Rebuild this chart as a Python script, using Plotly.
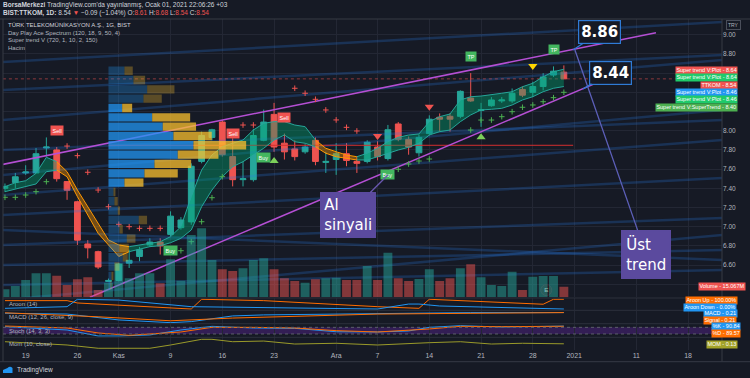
import plotly.graph_objects as go

# ---------------- data ----------------
bar_index = list(range(55))
opens  = [7.40,7.46,7.56,7.56,7.82,7.80,7.47,7.26,6.82,6.74,6.43,6.44,6.62,6.69,6.81,6.84,6.92,6.99,7.05,7.68,
          7.93,8.09,7.73,7.49,7.49,7.90,8.17,7.87,7.81,7.78,7.90,7.67,7.70,7.76,7.68,7.68,7.83,7.71,8.07,7.91,
          7.77,7.97,8.14,8.15,8.15,8.34,8.21,8.26,8.31,8.31,8.43,8.40,8.46,8.58,8.61]
highs  = [7.45,7.56,7.64,7.82,7.93,7.83,7.47,7.27,6.86,6.75,6.46,6.62,6.76,6.79,6.88,6.88,7.16,7.10,7.66,7.99,
          8.02,8.11,7.92,7.68,8.02,8.22,8.29,7.97,7.90,7.86,7.93,7.78,7.87,7.87,7.73,7.90,7.89,8.06,8.09,7.94,
          7.96,8.16,8.18,8.18,8.42,8.60,8.29,8.35,8.35,8.44,8.46,8.51,8.60,8.67,8.68]
lows   = [7.36,7.40,7.54,7.56,7.73,7.47,7.28,6.81,6.67,6.56,6.43,6.43,6.57,6.64,6.79,6.71,6.90,6.97,7.02,7.66,
          7.90,7.73,7.42,7.42,7.47,7.89,7.78,7.70,7.69,7.76,7.64,7.56,7.54,7.63,7.56,7.66,7.69,7.69,7.89,7.75,
          7.73,7.95,7.99,7.99,8.13,8.30,8.04,8.25,8.29,8.29,8.35,8.35,8.42,8.56,8.54]
closes = [7.42,7.52,7.57,7.76,7.83,7.50,7.38,6.86,6.78,6.58,6.44,6.61,6.65,6.76,6.84,6.80,7.11,7.07,7.63,7.95,
          8.01,7.75,7.49,7.50,7.95,8.09,7.83,7.78,7.73,7.83,7.68,7.68,7.76,7.69,7.66,7.88,7.73,8.01,7.91,7.83,
          7.93,8.12,8.12,8.12,8.41,8.31,8.22,8.32,8.32,8.39,8.37,8.46,8.56,8.62,8.54]
volume_m = [11.4,16.0,24.6,34.1,34.1,30.7,17.5,25.6,28.4,10.4,20.7,48.3,27.0,34.1,34.1,19.9,54.0,23.6,88.5,98.0,
            53.0,39.8,37.3,41.2,53.0,55.4,39.8,27.0,23.1,20.7,25.6,27.0,27.8,24.6,24.6,44.4,24.6,63.3,27.0,23.1,
            26.0,39.8,23.1,27.0,41.2,46.9,28.4,17.5,16.0,36.4,10.4,29.3,30.2,30.2,15.067]

tick_index = [2, 7, 11, 16, 21, 26, 32, 36, 41, 46, 51, 55, 61, 66]
tick_text = ['19', '26', 'Kas', '9', '16', '23', 'Ara', '7', '14', '21', '28', '2021', '11', '18']
price_ticks = [6.40, 6.60, 6.80, 7.00, 7.20, 7.40, 7.60, 7.80, 8.00, 8.20, 8.40, 8.60, 8.80, 9.00]
price_ticks_hidden = [6.40, 8.20, 8.40, 8.60]   # covered by the value labels on the price scale

# Super trend V band (upper / lower edge) and direction (1 = up / green, -1 = down / orange)
st_top = [7.417,7.458,7.479,7.556,7.723,7.677,7.573,7.382,7.208,7.035,6.862,6.810,6.792,6.810,6.833,6.844,6.896,7.000,7.313,7.590,
          7.747,7.833,7.869,7.903,8.007,8.077,8.094,8.094,8.059,8.042,7.903,7.817,7.781,7.747,7.729,7.765,7.817,7.885,7.931,7.955,
          7.966,8.094,8.146,8.174,8.320,8.354,8.361,8.372,8.390,8.406,8.458,8.494,8.562,8.615,8.640]
st_bot = [7.365,7.390,7.417,7.445,7.573,7.590,7.520,7.313,7.122,6.931,6.810,6.690,6.740,6.765,6.792,6.802,6.833,6.879,6.966,7.208,
          7.382,7.520,7.625,7.677,7.747,7.817,7.903,7.955,7.885,7.869,7.833,7.765,7.729,7.712,7.695,7.695,7.729,7.765,7.799,7.827,
          7.869,7.955,7.990,8.007,8.094,8.164,8.216,8.223,8.233,8.268,8.320,8.354,8.406,8.442,8.460]
st_dir = [1,1,1,1,1,1,-1,-1,-1,-1,-1,-1,-1,1,1,1,1,1,1,1,
          1,1,1,1,1,1,1,1,1,1,1,-1,-1,-1,-1,1,1,1,1,1,
          1,1,1,1,1,1,1,1,1,1,1,1,1,1,1]
st_value = 8.40

# Super trend stop dots
stop_red_idx = [6,7,8,9,10,11,12,13,14,15,23,24,28,29,30,31,32,33,34]
stop_red_price = [7.84,7.74,7.567,7.382,7.208,7.025,7.0,6.983,6.983,6.983,8.059,8.059,8.442,8.39,8.327,8.216,8.112,8.035,7.997]
stop_green_idx = [0,1,2,3,4,17,18,19,20,21,38,39,40,41,45,46,47,48,49,50,51,52,53,54]
stop_green_price = [7.306,7.306,7.33,7.365,7.469,6.75,6.844,7.052,7.302,7.521,7.598,7.653,7.684,7.705,
                    8.007,8.111,8.111,8.146,8.198,8.244,8.268,8.302,8.344,8.40]

# triangles
tri_up_idx = [26, 46]
tri_up_price = [7.684, 7.931]
tri_dn_idx = [36, 41]
tri_dn_price = [7.945, 8.25]
tri_yellow_idx = [51]
tri_yellow_price = [8.674]

# signal labels
signal_idx = [5, 22, 27, 16, 25, 37, 45, 53]
signal_price = [7.997, 7.966, 8.14, 6.757, 7.716, 7.542, 8.768, 8.85]
signal_text = ['Sell', 'Sell', 'Sell', 'Buy', 'Buy', 'Buy', 'TP', 'TP']

# volume profile (rows from the top), buy / sell volume, value-area flag
profile_price = [8.625,8.528,8.431,8.334,8.236,8.139,8.042,7.945,7.848,7.751,7.654,7.556,
                 7.459,7.362,7.265,7.168,7.070,6.973,6.876,6.779,6.682,6.585,6.487,6.390]
profile_buy = [16,25,38.7,35,13.7,43.7,54.3,65,85,69.3,46,36,16,5,6,9.3,30.3,11,18.3,11,14.3,6,3,2]
profile_sell = [8.3,11.7,27.3,18.3,10,38,33.3,38.3,52.7,40.7,36.7,33.3,19,2,3.3,2.3,8.3,3.3,8.7,9.3,5,5,2,1]
profile_in_va = [0,0,0,0,1,1,1,1,1,1,1,1,1,0,0,0,0,0,0,0,0,0,0,0]
profile_start_idx = 10

# trend lines
upper_trend_idx = [-0.48, 62.9]
upper_trend_price = [7.643, 9.021]
lower_trend_idx = [8.21, 57.97]
lower_trend_price = [6.265, 8.535]

# Day Play Ace Spectrum lines (left / right ends)
spectrum_idx = [-0.2, 69.3]
spectrum_left = [8.716, 8.424, 8.111, 7.799, 7.33, 7.122, 6.809, 6.601, 6.393, 7.539, 6.966, 6.237]
spectrum_right = [9.132, 8.789, 8.736, 8.111, 7.903, 7.507, 7.09, 6.757, 6.549, 8.216, 6.653, 6.914]

# indicators
aroon_up_idx = [0,6,7,11,18,19,25,36,40,41,50,52,53,54]
aroon_up = [86,86,62,41,0,100,86,24,7,100,59,49,100,100]
aroon_dn_idx = [0,6,7,11,18,22,36,39,40,42,54]
aroon_dn = [7,24,100,92,24,18,0,51,51,31,0]
macd_idx = [0,6,11,16,18,22,25,36,45,54]
macd = [0.18,0.14,-0.14,-0.27,-0.22,0.05,0.10,0.18,0.21,0.21]
signal_line_idx = [0,9,16,22,36,45,54]
signal_line = [0.20,0.01,-0.18,-0.05,0.14,0.18,0.21]
stoch_k_idx = [0,6,9,11,14,17,20,24,28,32,36,39,41,44,48,54]
stoch_k = [86,56,2,2,11,56,89,74,71,40,38,47,80,95,83,90.84]
stoch_d_idx = [0,6,9,12,17,20,24,28,32,36,41,44,48,54]
stoch_d = [92,74,29,8,38,80,80,74,50,38,65,89,86,89.57]
stoch_band = [20, 80]
mom_idx = [0,6,9,14,16,19,20,22,25,28,32,36,41,44,47,50,54]
mom = [0.41,-0.03,-0.47,-0.47,-0.03,0.73,0.73,0.41,0.5,0.1,0.2,-0.03,0.28,0.41,0.1,0.2,0.13]

earnings_idx = [52.3]
earnings_price = [6.34]

# ---------------- style ----------------
BG = '#161a25'
GRID = '#232734'
BORDER = '#363a45'
TXT = '#b2b5be'
UP = '#26a69a'
DN = '#ef5350'
FONT = 'Liberation Sans, Arial, sans-serif'

fig = go.Figure()

# spectrum lines
for a, b in zip(spectrum_left, spectrum_right):
    fig.add_trace(go.Scatter(x=spectrum_idx, y=[a, b], mode='lines',
                             line=dict(color='rgba(40,120,225,0.26)', width=2.5), hoverinfo='skip'))

# volume
vol_colors = ['rgba(38,166,154,0.5)' if c >= o else 'rgba(239,83,80,0.5)' for o, c in zip(opens, closes)]
fig.add_trace(go.Bar(x=bar_index, y=volume_m, marker=dict(color=vol_colors, line=dict(width=0)),
                     width=0.86, yaxis='y2'))

# volume profile
row_h = (profile_price[0] - profile_price[1]) * 0.9
buy_col = ['rgba(33,150,243,0.75)' if v else 'rgba(33,150,243,0.30)' for v in profile_in_va]
sell_col = ['rgba(251,192,45,0.75)' if v else 'rgba(251,192,45,0.30)' for v in profile_in_va]
fig.add_trace(go.Bar(y=profile_price, x=profile_buy, base=0, orientation='h', width=row_h,
                     marker=dict(color=buy_col, line=dict(width=0)), xaxis='x2', yaxis='y'))
fig.add_trace(go.Bar(y=profile_price, x=profile_sell, base=profile_buy, orientation='h', width=row_h,
                     marker=dict(color=sell_col, line=dict(width=0)), xaxis='x2', yaxis='y'))
totals = [b + s for b, s in zip(profile_buy, profile_sell)]
poc_price = profile_price[totals.index(max(totals))]
fig.add_trace(go.Scatter(x=[profile_start_idx, 54.9], y=[poc_price, poc_price], mode='lines',
                         line=dict(color='#d32f2f', width=1)))

# last price line
fig.add_trace(go.Scatter(x=[-0.2, 69.3], y=[closes[-1], closes[-1]], mode='lines',
                         line=dict(color='rgba(239,83,80,0.55)', width=1, dash='dot')))

# super trend band segments
runs = []
start = 0
for i in range(1, len(st_dir) + 1):
    if i == len(st_dir) or st_dir[i] != st_dir[start]:
        runs.append((start, i - 1, st_dir[start]))
        start = i
for a, b, d in runs:
    s = a - 1 if a > 0 else 0
    xs = bar_index[s:b + 1]
    edge = UP if d == 1 else '#ff9800'
    fill = 'rgba(0,160,110,0.42)' if d == 1 else 'rgba(255,152,0,0.40)'
    fig.add_trace(go.Scatter(x=xs, y=st_bot[s:b + 1], mode='lines', line=dict(color=edge, width=1)))
    fig.add_trace(go.Scatter(x=xs, y=st_top[s:b + 1], mode='lines', line=dict(color=edge, width=1),
                             fill='tonexty', fillcolor=fill))

# candles
fig.add_trace(go.Candlestick(x=bar_index, open=opens, high=highs, low=lows, close=closes,
                             increasing=dict(line=dict(color=UP, width=1), fillcolor=UP),
                             decreasing=dict(line=dict(color=DN, width=1), fillcolor=DN),
                             whiskerwidth=0, hoverinfo='skip'))

# trend lines
for xi, yi in ((upper_trend_idx, upper_trend_price), (lower_trend_idx, lower_trend_price)):
    fig.add_trace(go.Scatter(x=xi, y=yi, mode='lines', line=dict(color='#b54fd4', width=1.5)))

# stop dots
fig.add_trace(go.Scatter(x=stop_red_idx, y=stop_red_price, mode='markers',
                         marker=dict(symbol='cross-thin', size=4, line=dict(color=DN, width=1))))
fig.add_trace(go.Scatter(x=stop_green_idx, y=stop_green_price, mode='markers',
                         marker=dict(symbol='cross-thin', size=4, line=dict(color='#4caf50', width=1))))
# triangles
fig.add_trace(go.Scatter(x=tri_up_idx, y=tri_up_price, mode='markers',
                         marker=dict(symbol='triangle-up', size=8, color='#7ccf5a')))
fig.add_trace(go.Scatter(x=tri_dn_idx, y=tri_dn_price, mode='markers',
                         marker=dict(symbol='triangle-down', size=8, color=DN)))
fig.add_trace(go.Scatter(x=tri_yellow_idx, y=tri_yellow_price, mode='markers',
                         marker=dict(symbol='triangle-down', size=8, color='#ffd600')))
# earnings marker
fig.add_trace(go.Scatter(x=earnings_idx, y=earnings_price, mode='markers+text', text=['E'],
                         textfont=dict(size=6, color='#e0e0e0', family=FONT),
                         marker=dict(size=11, color='#2a1820', line=dict(color='#4a2030', width=1))))

# indicators
def ind(x, y, color, axis):
    fig.add_trace(go.Scatter(x=x, y=y, mode='lines', line=dict(color=color, width=1), yaxis=axis))

ind(aroon_up_idx, aroon_up, '#ff6d00', 'y3')
ind(aroon_dn_idx, aroon_dn, '#2196f3', 'y3')
ind(macd_idx, macd, '#2196f3', 'y4')
ind(signal_line_idx, signal_line, '#ff6d00', 'y4')
ind(stoch_k_idx, stoch_k, '#2196f3', 'y5')
ind(stoch_d_idx, stoch_d, '#ff6d00', 'y5')
ind(mom_idx, mom, '#9a9a2a', 'y6')

# ---------------- layout ----------------
W, H, ML, MR, MT, MB = 750, 378, 3, 28, 19, 28
PW, PH = W - ML - MR, H - MT - MB

def px_y(y):
    return (H - MB - y) / PH

def px_x(x):
    return (x - ML) / PW

shapes = []
def hline(ypx, color=BORDER, x0=-0.01, x1=1.04):
    shapes.append(dict(type='line', xref='paper', yref='paper', x0=x0, x1=x1, y0=px_y(ypx), y1=px_y(ypx),
                       line=dict(color=color, width=1)))

for ypx in (298, 310.3, 323.7, 337.3):
    hline(ypx, color='#2c303c', x0=0, x1=1)
hline(19)
hline(361.7)
shapes.append(dict(type='line', xref='paper', yref='paper', x0=1, x1=1, y0=px_y(361.7), y1=1,
                   line=dict(color=BORDER, width=1)))
shapes.append(dict(type='line', xref='paper', yref='paper', x0=0, x1=0, y0=px_y(361.7), y1=1,
                   line=dict(color=BORDER, width=1)))
shapes.append(dict(type='rect', xref='paper', yref='y5', x0=0, x1=1, y0=stoch_band[0], y1=stoch_band[1],
                   fillcolor='rgba(120,40,200,0.30)', line=dict(width=0), layer='below'))
for lvl in stoch_band:
    shapes.append(dict(type='line', xref='paper', yref='y5', x0=0, x1=1, y0=lvl, y1=lvl,
                       line=dict(color='#5d5f6b', width=1, dash='dot')))

ann = []
def text(x, y, t, size=6, color=TXT, xanchor='left', **kw):
    ann.append(dict(x=x, y=y, xref='paper', yref='paper', text=t, showarrow=False, xanchor=xanchor,
                    yanchor='middle', font=dict(size=size, color=color, family=FONT), **kw))

R = "<span style='color:#ef5350'>"
text(px_x(1), px_y(4.5), "<b>BorsaMerkezi</b> TradingView.com'da yayınlanmış, Ocak 01, 2021 22:06:26 +03",
     size=6.5, color='#d1d4dc')
text(px_x(1), px_y(12.5),
     f"<b>BIST:TTKOM, 1D:</b> {closes[-1]:.2f} {R}▼</span> −0.09 (−1.04%) "
     f"O:{R}{opens[-1]:.2f}</span> H:{R}{highs[-1]:.2f}</span> L:{R}{lows[-1]:.2f}</span> C:{R}{closes[-1]:.2f}</span>",
     size=6.5, color='#d1d4dc')
text(px_x(6), px_y(25), 'TÜRK TELEKOMÜNİKASYON A.Ş., 1G, BIST', size=6, color='#d1d4dc')
text(px_x(6), px_y(32.5), 'Day Play Ace Spectrum (120, 18, 9, 50, 4)', size=6)
text(px_x(6), px_y(40), 'Super trend V (720, 1, 10, 2, 150)', size=6)
text(px_x(6), px_y(47.5), 'Hacim', size=6)
text(px_x(7), px_y(304), 'Aroon (14)', size=6)
text(px_x(7), px_y(317), 'MACD (12, 26, close, 9)', size=6)
text(px_x(7), px_y(330.5), 'Stoch (14, 3, 3)', size=6)
text(px_x(7), px_y(344), 'Mom (10, close)', size=6)
text(px_x(15), px_y(370), 'TradingView', size=6.5, color='#d1d4dc')
text(px_x(734), px_y(24.5), 'TRY', size=5, color=TXT, xanchor='center',
     bordercolor='#4a4e5a', borderwidth=1, borderpad=1, bgcolor=BG)

# right-side value labels
right_labels = [
    (f'Super trend V:Plot - {st_top[-1]:.2f}', '#f05350', 70, 738),
    (f'Super trend V:Plot - {st_top[-1]:.2f}', '#1fca6a', 77.5, 738),
    (f'TTKOM - {closes[-1]:.2f}', '#ef5350', 85, 738),
    (f'Super trend V:Plot - {st_bot[-1]:.2f}', '#2196f3', 92.5, 738),
    (f'Super trend V:Plot - {st_bot[-1]:.2f}', '#1fca6a', 100, 738),
    (f'Super trend V:SuperTrend - {st_value:.2f}', '#4caf50', 107.5, 738),
    (f'Volume - {volume_m[-1]:.3f}M', '#ef5350', 286, 746.5),
    (f'Aroon Up - {aroon_up[-1]:.2f}%', '#ff6d00', 300, 738),
    (f'Aroon Down - {aroon_dn[-1]:.2f}%', '#2196f3', 307.5, 737),
    (f'MACD - {macd[-1]:.2f}', '#2196f3', 313.5, 738),
    (f'Signal - {signal_line[-1]:.2f}', '#ff6d00', 320, 737),
    (f'%K - {stoch_k[-1]:.2f}', '#2196f3', 326.5, 740.7),
    (f'%D - {stoch_d[-1]:.2f}', '#ff6d00', 333.7, 740.7),
    (f'MOM - {mom[-1]:.2f}', '#a3a329', 344.5, 738),
]
for t, c, ypx, xr in right_labels:
    text(px_x(xr), px_y(ypx), t, size=5.5, color='white', xanchor='right', bgcolor=c, borderpad=0.4)

# Buy / Sell / TP labels
sig_col = {'Sell': '#f05350', 'Buy': '#43b65f', 'TP': '#43b65f'}
for i, p, t in zip(signal_idx, signal_price, signal_text):
    ann.append(dict(x=i, y=p, xref='x', yref='y', text=t, showarrow=False, bgcolor=sig_col[t], borderpad=1.5,
                    font=dict(size=5.5, color='white', family=FONT)))

# callouts
def callout(x, y, t, ax, ay, bg, border, col, pad=3):
    ann.append(dict(x=x, y=y, xref='x', yref='y', text=t, showarrow=True, arrowhead=0, arrowwidth=1.3,
                    arrowcolor=col, ax=ax, ay=ay, bgcolor=bg, bordercolor=border, borderwidth=1.2,
                    borderpad=pad, align='left', font=dict(size=15, color='white', family='DejaVu Sans')))

callout(55.07, 8.84, 'Üst<br>trend', 71, 204, '#5b4a9e', '#5b4a9e', '#5c5fb8', pad=4)
callout(37, 7.539, 'Al<br>sinyali', -40, 40, '#5b4a9e', '#5b4a9e', '#6a58b0')
callout(54.88, 8.84, '<b>8.86</b>', 27, -18, BG, '#2f7bd6', '#2f7bd6', pad=2)
callout(55.85, 8.434, '<b>8.44</b>', 27.5, -16.5, BG, '#2f7bd6', '#2f7bd6', pad=2)

# TradingView logo mark
shapes.append(dict(type='path', xref='paper', yref='paper',
                   path=f'M {px_x(3)},{px_y(373)} L {px_x(12.5)},{px_y(373)} L {px_x(12.5)},{px_y(368)} '
                        f'Q {px_x(10)},{px_y(365.5)} {px_x(7.5)},{px_y(368)} L {px_x(3)},{px_y(370)} Z',
                   fillcolor='#2196f3', line=dict(width=0)))

x_range = [-0.19, 69.28]
px_per_bar = PW / (x_range[1] - x_range[0])
prof_left = profile_start_idx - x_range[0]
price_tick_text = ['' if p in price_ticks_hidden else f'{p:.2f}' for p in price_ticks]

fig.update_layout(
    width=W, height=H, margin=dict(l=ML, r=MR, t=MT, b=MB),
    paper_bgcolor=BG, plot_bgcolor=BG, showlegend=False, hovermode=False,
    barmode='overlay', boxgap=0.2, font=dict(family=FONT, color=TXT),
    xaxis=dict(range=x_range, tickvals=tick_index, ticktext=tick_text, showgrid=True, gridcolor=GRID,
               gridwidth=1, zeroline=False, showline=False, ticks='', tickfont=dict(size=7, color=TXT),
               rangeslider=dict(visible=False), anchor='y6'),
    xaxis2=dict(range=[-prof_left * px_per_bar, (x_range[1] - profile_start_idx) * px_per_bar],
                overlaying='x', anchor='y', visible=False),
    yaxis=dict(domain=[px_y(297.3), 1], range=[6.2646, 9.1635], side='right', anchor='x',
               tickvals=price_ticks, ticktext=price_tick_text, showgrid=True, gridcolor=GRID, zeroline=False,
               ticks='', tickfont=dict(size=6.5, color=TXT)),
    yaxis2=dict(range=[0, 395], overlaying='y', anchor='x', visible=False),
    yaxis3=dict(domain=[px_y(310), px_y(298.3)], range=[-10, 110], anchor='x', showgrid=False,
                zeroline=False, showticklabels=False),
    yaxis4=dict(domain=[px_y(323.3), px_y(310.7)], range=[-0.3, 0.3], anchor='x', showgrid=False,
                zeroline=False, showticklabels=False),
    yaxis5=dict(domain=[px_y(337.3), px_y(324)], range=[-10, 110], anchor='x', showgrid=False,
                zeroline=False, showticklabels=False),
    yaxis6=dict(domain=[0, px_y(337.3)], range=[-0.7, 1.0], anchor='x', showgrid=False,
                zeroline=False, showticklabels=False),
    shapes=shapes, annotations=ann,
)

fig.write_html('out.html', config={'displayModeBar': False},
               post_script="document.body.style.margin='0px';document.body.style.overflow='hidden';")
